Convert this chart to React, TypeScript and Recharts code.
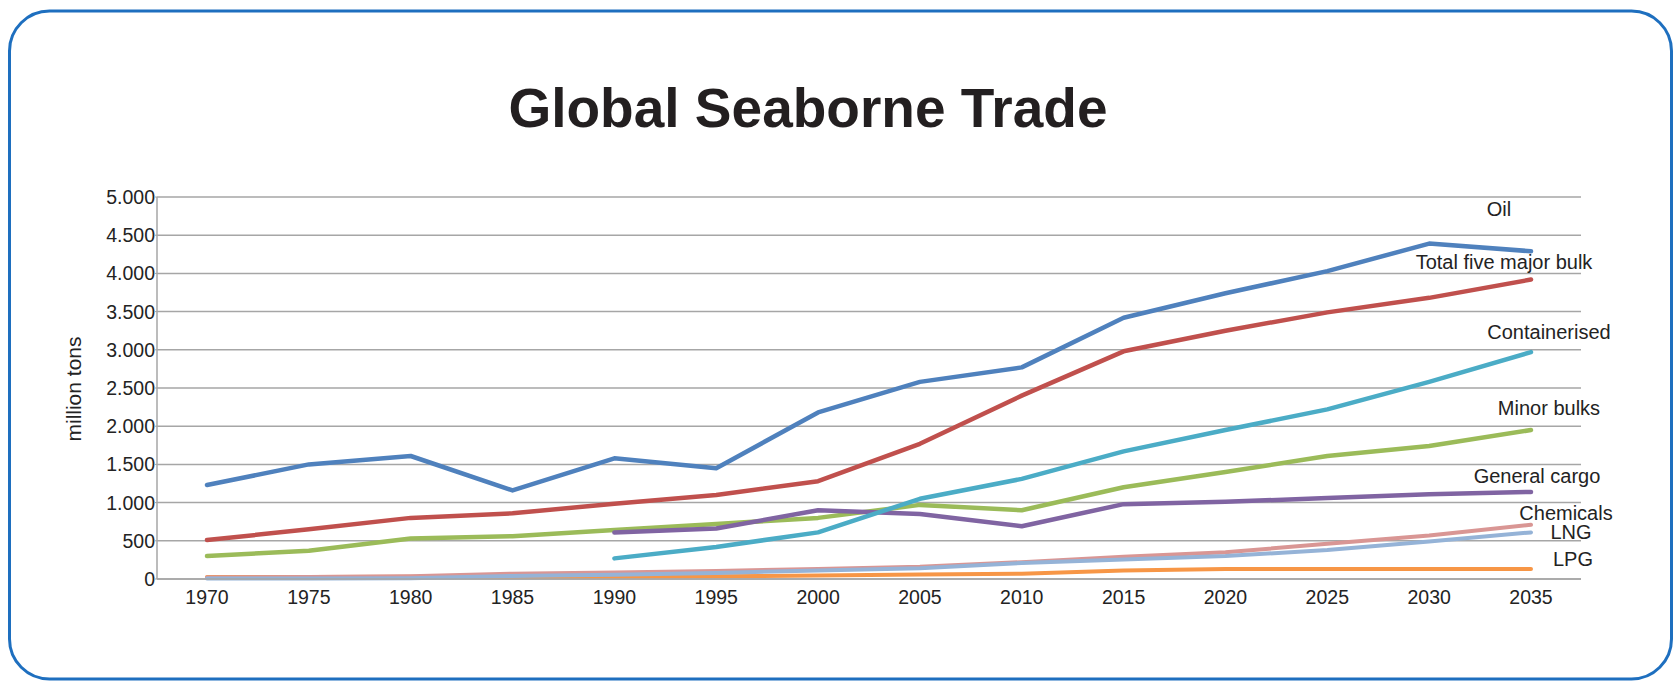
import React from "react";
import { LineChart, Line, XAxis, YAxis, CartesianGrid, LabelList } from "recharts";

const years = ["1970", "1975", "1980", "1985", "1990", "1995", "2000", "2005", "2010", "2015", "2020", "2025", "2030", "2035"];

const oil = [1230, 1500, 1610, 1160, 1580, 1450, 2180, 2580, 2770, 3420, 3740, 4030, 4390, 4290];
const majorBulk = [510, 650, 800, 860, 985, 1100, 1280, 1770, 2400, 2980, 3250, 3490, 3680, 3920];
const containerised = [null, null, null, null, 270, 420, 610, 1050, 1310, 1670, 1950, 2220, 2580, 2970];
const minorBulks = [300, 370, 530, 560, 640, 720, 800, 970, 900, 1200, 1400, 1610, 1740, 1950];
const generalCargo = [null, null, null, null, 610, 660, 900, 850, 690, 980, 1010, 1060, 1110, 1140];
const chemicals = [20, 25, 35, 70, 85, 105, 130, 160, 220, 290, 350, 460, 570, 710];
const lng = [5, 5, 10, 40, 55, 80, 110, 140, 210, 255, 300, 380, 490, 610];
const lpg = [25, 25, 30, 30, 30, 35, 45, 60, 70, 110, 130, 130, 130, 130];

const yTicks = [0, 500, 1000, 1500, 2000, 2500, 3000, 3500, 4000, 4500, 5000];

const series = [
  { key: "oil", name: "Oil", values: oil, color: "#4f81bd", width: 4.5, dx: -32, dy: -42 },
  { key: "majorBulk", name: "Total five major bulk", values: majorBulk, color: "#c0504d", width: 4.5, dx: -27, dy: -18 },
  { key: "minorBulks", name: "Minor bulks", values: minorBulks, color: "#9bbb59", width: 4.5, dx: 18, dy: -22 },
  { key: "generalCargo", name: "General cargo", values: generalCargo, color: "#8064a2", width: 4.5, dx: 6, dy: -16 },
  { key: "containerised", name: "Containerised", values: containerised, color: "#4bacc6", width: 4.5, dx: 18, dy: -20 },
  { key: "lpg", name: "LPG", values: lpg, color: "#f79646", width: 4, dx: 42, dy: -10 },
  { key: "chemicals", name: "Chemicals", values: chemicals, color: "#d99694", width: 4, dx: 35, dy: -12 },
  { key: "lng", name: "LNG", values: lng, color: "#95b3d7", width: 4, dx: 40, dy: 0 },
];

const data = years.map((year, i) => {
  const row: Record<string, string | number | null> = { year };
  series.forEach((s) => {
    row[s.key] = s.values[i];
  });
  return row;
});

const FONT = '"Liberation Sans", Arial, sans-serif';
const TEXT = "#232323";

const fmt = (v: number) =>
  v >= 1000 ? `${Math.floor(v / 1000)}.${String(v % 1000).padStart(3, "0")}` : String(v);

const endLabel = (name: string, dx: number, dy: number) => (props: any) => {
  const { x, y, index } = props;
  if (index !== years.length - 1 || x == null || y == null) return null;
  return (
    <text
      x={x + dx}
      y={y + dy}
      dy="0.35em"
      textAnchor="middle"
      fontFamily={FONT}
      fontSize={20}
      fill={TEXT}
    >
      {name}
    </text>
  );
};

export default function App() {
  return (
    <div style={{ position: "absolute", left: 0, top: 0, width: 1676, height: 681, background: "#fff" }}>
      <svg width={1676} height={681} style={{ position: "absolute", left: 0, top: 0 }}>
        <rect x={9.5} y={11} width={1662} height={668} rx={40} fill="none" stroke="#1e6fbf" strokeWidth={3} />
        <text x={808} y={127} textAnchor="middle" fontFamily={FONT} fontWeight="bold" fontSize={55} fill="#231f20">
          Global Seaborne Trade
        </text>
        <text
          x={74}
          y={389}
          dy="0.35em"
          textAnchor="middle"
          transform="rotate(-90, 74, 389)"
          fontFamily={FONT}
          fontSize={21}
          fill={TEXT}
        >
          million tons
        </text>
      </svg>
      <div style={{ position: "absolute", left: 0, top: 0 }}>
        <LineChart
          width={1676}
          height={681}
          data={data}
          margin={{ top: 197, right: 95, bottom: 72, left: 97 }}
        >
          <CartesianGrid vertical={false} stroke="#a6a6a6" strokeWidth={1.5} />
          <XAxis
            dataKey="year"
            height={30}
            padding={{ left: 50, right: 50 }}
            tickLine={false}
            tickSize={0}
            tickMargin={11}
            axisLine={{ stroke: "#a6a6a6", strokeWidth: 1.5 }}
            tick={{ fontFamily: FONT, fontSize: 19.5, fill: TEXT }}
            interval={0}
          />
          <YAxis
            width={60}
            domain={[0, 5000]}
            ticks={yTicks}
            tickFormatter={fmt}
            tickSize={2}
            tickMargin={0}
            tickLine={{ stroke: "#a6a6a6" }}
            axisLine={{ stroke: "#a6a6a6", strokeWidth: 1.5 }}
            tick={{ fontFamily: FONT, fontSize: 19.5, fill: TEXT }}
            interval={0}
          />
          {series.map((s) => (
            <Line
              key={s.key}
              type="linear"
              dataKey={s.key}
              stroke={s.color}
              strokeWidth={s.width}
              strokeLinecap="round"
              strokeLinejoin="round"
              dot={false}
              activeDot={false}
              isAnimationActive={false}
            >
              <LabelList dataKey={s.key} content={endLabel(s.name, s.dx, s.dy)} />
            </Line>
          ))}
        </LineChart>
      </div>
    </div>
  );
}
